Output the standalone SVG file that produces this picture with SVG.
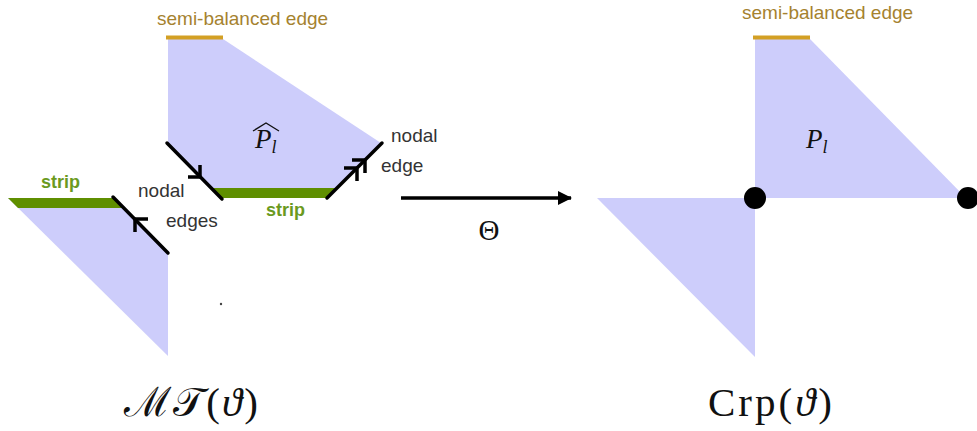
<svg xmlns="http://www.w3.org/2000/svg" width="977" height="431" viewBox="0 0 977 431">
<defs>
<style>
.fill{fill:#cdcdfb;stroke:none}
.strip{fill:#5f8f00;stroke:none}
.semi{stroke:#d3a024;stroke-width:4;stroke-linecap:butt}
.nodal{stroke:#000;stroke-width:3.5;fill:none;stroke-linecap:round}
.chev{stroke:#000;stroke-width:3.5;fill:none;stroke-linejoin:miter}
.lbl{font-family:"Liberation Sans",Arial,sans-serif;font-size:19px;fill:#333}
.semitxt{font-family:"Liberation Sans",Arial,sans-serif;font-size:19px;fill:#a5822f}
.striptxt{font-family:"Liberation Sans",Arial,sans-serif;font-size:18px;font-weight:bold;fill:#6b9a1e}
.math{font-family:"Liberation Serif","DejaVu Serif",serif;fill:#111}
.dot{fill:#000}
</style>
<marker id="ah" markerWidth="14" markerHeight="14" refX="13" refY="7" orient="auto" markerUnits="userSpaceOnUse">
<path d="M0,0 L14,7 L0,14 Z" fill="#000"/>
</marker>
</defs>

<g id="left-lower-piece">
<polygon class="fill" points="8,198 114,198 168,252 168,356"/>
<polygon class="strip" points="8,198 114,198 124,208 18,208"/>
<text class="striptxt" x="41" y="188">strip</text>
</g>

<g id="left-upper-piece">
<polygon class="fill" points="168,39 223,39 381,143 327,198 222,198 168,143"/>
<polygon class="strip" points="212,188 337,188 327,198 222,198"/>
<line class="semi" x1="166" y1="37.5" x2="223" y2="37.5"/>
<text class="semitxt" x="157" y="25">semi-balanced edge</text>
<text class="math" x="255" y="148" font-size="27" font-style="italic">P<tspan font-size="18" dy="5">l</tspan></text>
<polyline points="253,131 266,123 279,131" fill="none" stroke="#111" stroke-width="1.3"/>
<text class="striptxt" x="266" y="216">strip</text>
</g>

<g id="nodal-edges">
<line class="nodal" x1="167" y1="143" x2="222" y2="199"/>
<polyline class="chev" points="188,177 200,177 200,165"/>
<line class="nodal" x1="113" y1="197" x2="168" y2="253"/>
<polyline class="chev" points="148,219 135,219 135,232"/>
<line class="nodal" x1="327" y1="198" x2="382" y2="143"/>
<polyline class="chev" points="344,168 357,168 357,181"/>
<polyline class="chev" points="352,160 365,160 365,173"/>
<text class="lbl" x="138" y="197">nodal</text>
<text class="lbl" x="166" y="227">edges</text>
<text class="lbl" x="391" y="142">nodal</text>
<text class="lbl" x="381" y="172">edge</text>
</g>

<circle cx="221" cy="304" r="1.2" fill="#444"/>

<g id="connectors">
<line x1="401" y1="198" x2="571" y2="198" stroke="#000" stroke-width="3.5" marker-end="url(#ah)"/>
<text class="math" x="489" y="240" font-size="29" text-anchor="middle" font-family="'DejaVu Serif',serif">Θ</text>
</g>

<g id="right-piece">
<polygon class="fill" points="755,39 810,39 966,198 755,198"/>
<polygon class="fill" points="597,198 755,198 755,357"/>
<line class="semi" x1="753" y1="37.5" x2="810" y2="37.5"/>
<text class="semitxt" x="742" y="19">semi-balanced edge</text>
<text class="math" x="806" y="148" font-size="27" font-style="italic">P<tspan font-size="18" dy="5">l</tspan></text>
<circle class="dot" cx="755" cy="198" r="11"/>
<circle class="dot" cx="968" cy="198" r="11"/>
</g>

<g id="captions">
<text class="math" x="124" y="416" font-size="41" letter-spacing="2"><tspan font-family="'DejaVu Serif','Noto Sans',serif" font-style="normal">ℳ𝒯</tspan>(<tspan font-style="italic">ϑ</tspan>)</text>
<text class="math" x="708" y="416" font-size="41" letter-spacing="3">Crp(<tspan font-style="italic">ϑ</tspan>)</text>
</g>
</svg>
